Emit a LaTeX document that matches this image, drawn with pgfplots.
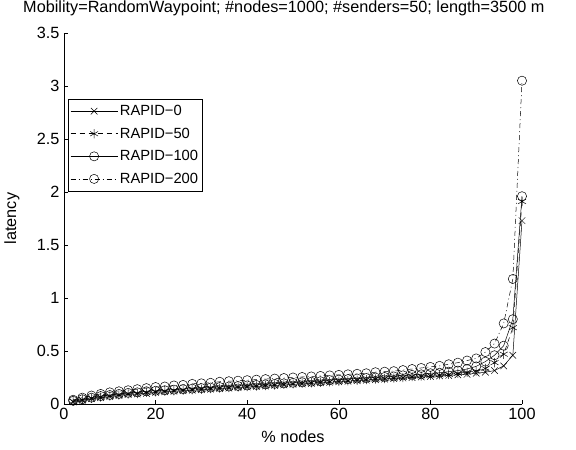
\documentclass[border=0pt]{standalone}
\usepackage{fontspec}
\setmainfont{Liberation Sans}
\usepackage{pgfplots}
\usepackage{pgfplotstable}
\pgfplotsset{compat=1.18}
\newcommand{\ff}{\fontsize{16.3}{19}\selectfont}
\newcommand{\lf}{\fontsize{14.8}{17}\selectfont}
\pgfplotstableread{
x r0 r50 r100 r200
2 0.02 0.025 0.03 0.04
4 0.035 0.04 0.045 0.06
6 0.05 0.055 0.06 0.08
8 0.06 0.065 0.075 0.095
10 0.07 0.075 0.085 0.11
12 0.08 0.085 0.095 0.12
14 0.09 0.095 0.105 0.13
16 0.095 0.10 0.11 0.14
18 0.10 0.11 0.12 0.15
20 0.11 0.115 0.125 0.16
22 0.115 0.12 0.13 0.165
24 0.12 0.125 0.135 0.175
26 0.125 0.13 0.14 0.18
28 0.13 0.135 0.145 0.19
30 0.135 0.14 0.15 0.195
32 0.14 0.145 0.155 0.20
34 0.145 0.15 0.16 0.21
36 0.15 0.155 0.165 0.215
38 0.155 0.16 0.17 0.22
40 0.16 0.165 0.175 0.225
42 0.165 0.17 0.18 0.23
44 0.17 0.175 0.185 0.235
46 0.175 0.18 0.19 0.24
48 0.18 0.185 0.195 0.245
50 0.185 0.19 0.20 0.25
52 0.19 0.195 0.205 0.255
54 0.195 0.20 0.21 0.26
56 0.20 0.205 0.215 0.265
58 0.205 0.21 0.225 0.27
60 0.21 0.215 0.23 0.275
62 0.215 0.22 0.235 0.28
64 0.22 0.225 0.24 0.285
66 0.225 0.23 0.245 0.29
68 0.23 0.235 0.25 0.30
70 0.235 0.24 0.255 0.305
72 0.24 0.245 0.26 0.31
74 0.245 0.25 0.27 0.32
76 0.25 0.26 0.275 0.33
78 0.255 0.265 0.28 0.34
80 0.26 0.27 0.29 0.35
82 0.265 0.275 0.295 0.36
84 0.27 0.28 0.305 0.375
86 0.275 0.29 0.315 0.39
88 0.28 0.30 0.33 0.41
90 0.29 0.31 0.355 0.43
92 0.30 0.335 0.40 0.49
94 0.315 0.39 0.46 0.57
96 0.36 0.47 0.55 0.76
98 0.46 0.72 0.80 1.18
100 1.73 1.91 1.96 3.05
}\data
\begin{document}
\begin{tikzpicture}[font=\ff]
\path[use as bounding box] (-64bp,-46bp) rectangle (512bp,404bp);
\begin{axis}[
  scale only axis,
  width=458bp, height=371bp,
  at={(0,0)}, anchor=origin,
  xmin=0, xmax=100, ymin=0, ymax=3.5,
  axis x line*=bottom, axis y line*=left,
  axis line style={line width=0.5bp},
  tick align=inside,
  tick style={black, line width=0.5bp},
  major tick length=4.5bp,
  xtick={0,20,40,60,80,100},
  ytick={0,0.5,1,1.5,2,2.5,3,3.5},
  yticklabels={0,0.5,1,1.5,2,2.5,3,3.5},
  /pgf/number format/assume math mode=true,
  tick label style={font=\ff},
  xticklabel style={yshift=-0.5bp},
  yticklabel style={xshift=-1bp},
  label style={font=\ff},
  xlabel={\% nodes},
  ylabel={latency},
  xlabel style={at={(axis description cs:0.5,0)}, anchor=base, yshift=-38bp},
  ylabel style={at={(axis description cs:0,0.5)}, anchor=center, yshift=52bp},
  title={Mobility=RandomWaypoint; \#nodes=1000; \#senders=50; length=3500 m},
  title style={font=\ff, at={(axis description cs:0.48,1)}, anchor=base, yshift=15bp},
  legend style={at={(0.009,0.822)}, anchor=north west, draw=black, line width=0.5bp,
    font=\lf, row sep=6.8bp, inner xsep=2bp, inner ysep=4bp},
  legend cell align=left,
  legend image code/.code={
    \draw[mark repeat=2,mark phase=2] plot coordinates {(0bp,0bp) (23.5bp,0bp) (47bp,0bp)};},
  every axis plot/.append style={black, line width=0.5bp, mark size=4.6bp},
]
\addplot[mark=x, solid, mark options={solid}] table[x=x,y=r0] {\data};
\addlegendentry{RAPID−0}
\addplot[mark=asterisk, dash pattern=on 5bp off 4bp, mark options={solid}] table[x=x,y=r50] {\data};
\addlegendentry{RAPID−50}
\addplot[mark=o, solid, mark options={solid}] table[x=x,y=r100] {\data};
\addlegendentry{RAPID−100}
\addplot[mark=o, dash pattern=on 5bp off 3bp on 1bp off 3bp, mark options={solid}] table[x=x,y=r200] {\data};
\addlegendentry{RAPID−200}
\end{axis}
\end{tikzpicture}
\end{document}
